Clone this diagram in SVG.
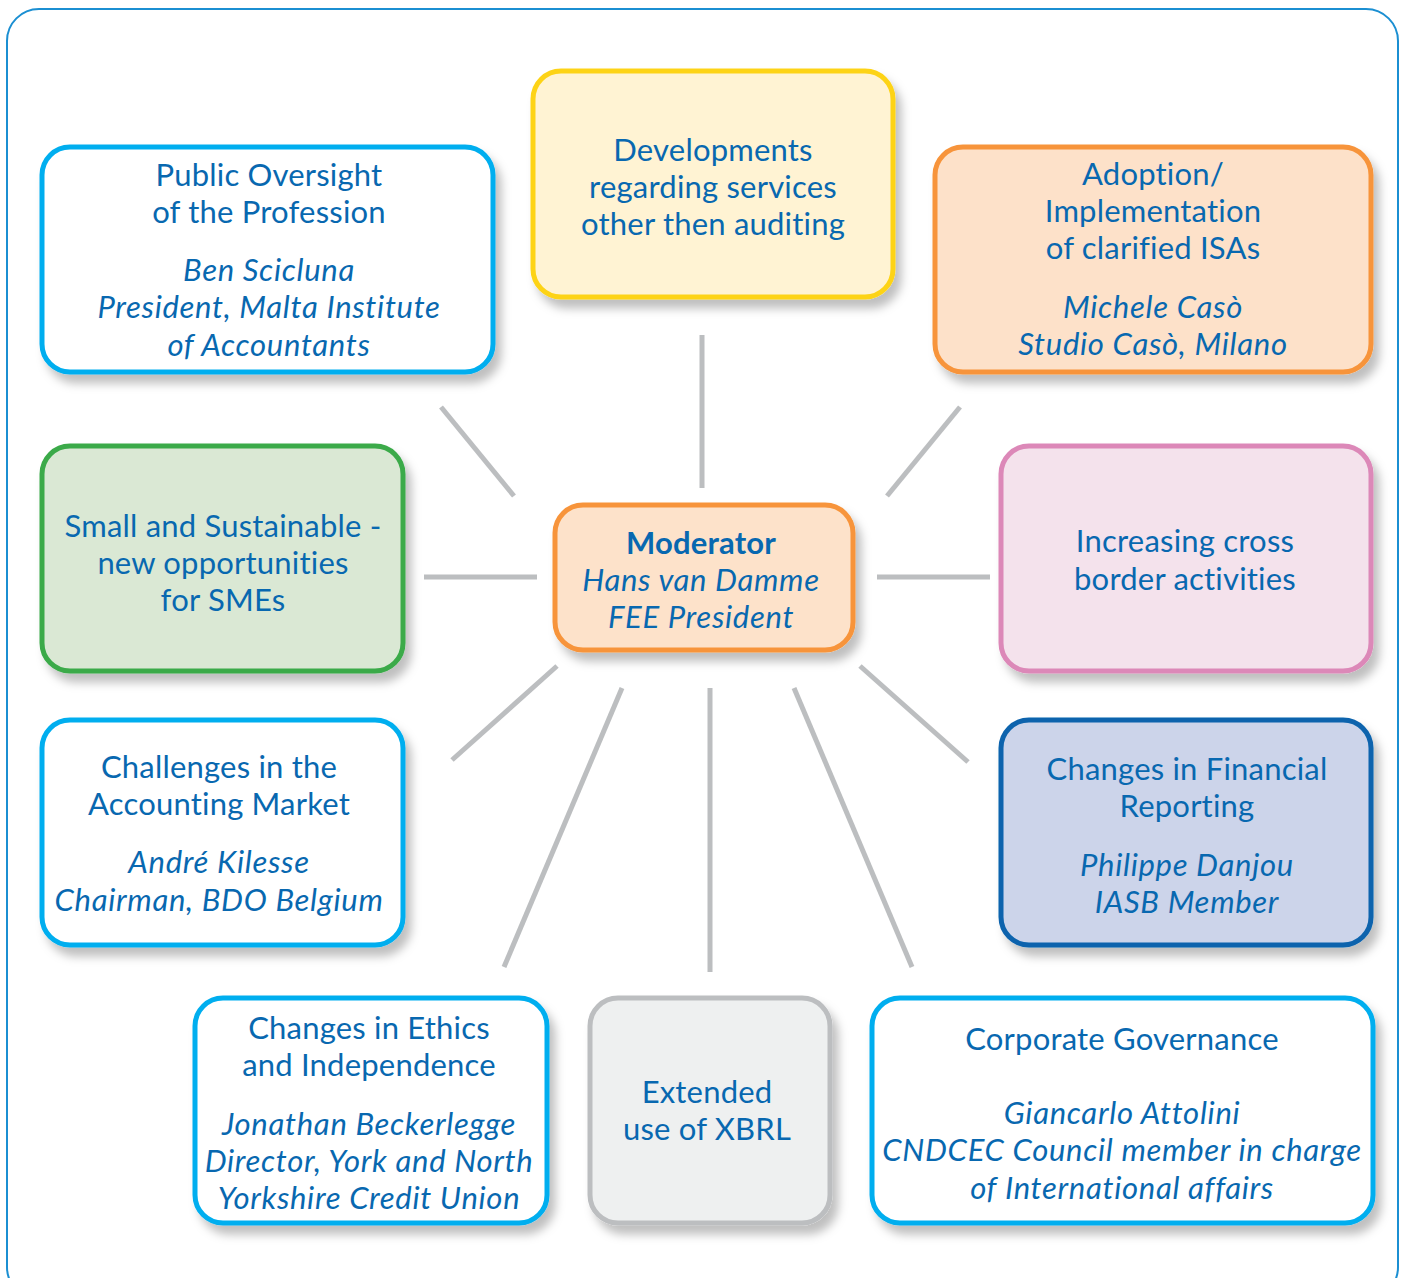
<svg xmlns="http://www.w3.org/2000/svg" width="1405" height="1278" viewBox="0 0 1405 1278">
<defs>
<filter id="sh" x="-10%" y="-10%" width="130%" height="140%">
<feDropShadow dx="6" dy="9" stdDeviation="5" flood-color="#000" flood-opacity="0.25"/>
</filter>
<style>
.t{font-family:Lato,"Open Sans","Noto Sans",sans-serif;font-size:31px;letter-spacing:0.2px;fill:#0868b0;text-anchor:middle}
.i{font-style:italic;letter-spacing:0.7px}
.b{font-weight:bold}
.box{stroke-width:5;filter:url(#sh)}
.cyan{stroke:#00aeef;fill:#fff}
.con line{stroke:#bcbec0;stroke-width:5}
</style>
</defs>
<rect width="1405" height="1278" fill="#fff"/>
<rect x="7" y="9" width="1391" height="1290" rx="32" fill="none" stroke="#1b8fd2" stroke-width="2"/>
<g class="con">
<line x1="441" y1="407" x2="514" y2="496"/>
<line x1="702" y1="335" x2="702" y2="488"/>
<line x1="960" y1="407" x2="887" y2="496"/>
<line x1="424" y1="577" x2="537" y2="577"/>
<line x1="877" y1="577" x2="990" y2="577"/>
<line x1="557" y1="666" x2="452" y2="760"/>
<line x1="860" y1="666" x2="968" y2="762"/>
<line x1="622" y1="688" x2="504" y2="967"/>
<line x1="710" y1="688" x2="710" y2="972"/>
<line x1="794" y1="688" x2="912" y2="967"/>
</g>
<g id="n-oversight">
<rect class="box cyan" x="42" y="147" width="451" height="225" rx="28"/>
<text class="t" x="269" y="186">Public Oversight</text>
<text class="t" x="269" y="223">of the Profession</text>
<text class="t i" x="269" y="281">Ben Scicluna</text>
<text class="t i" x="269" y="318">President, Malta Institute</text>
<text class="t i" x="269" y="356">of Accountants</text>
</g>
<g id="n-developments">
<rect class="box" x="533" y="71" width="360" height="226" rx="28" fill="#fff3d3" stroke="#fdd317"/>
<text class="t" x="713" y="161">Developments</text>
<text class="t" x="713" y="198">regarding services</text>
<text class="t" x="713" y="235">other then auditing</text>
</g>
<g id="n-adoption">
<rect class="box" x="935" y="147" width="436" height="225" rx="28" fill="#fde1c9" stroke="#f7943a"/>
<text class="t" x="1153" y="185">Adoption/</text>
<text class="t" x="1153" y="222">Implementation</text>
<text class="t" x="1153" y="259">of clarified ISAs</text>
<text class="t i" x="1153" y="318">Michele Casò</text>
<text class="t i" x="1153" y="355">Studio Casò, Milano</text>
</g>
<g id="n-sme">
<rect class="box" x="42" y="446" width="361" height="225" rx="28" fill="#dae8d4" stroke="#3aaa48"/>
<text class="t" x="223" y="537">Small and Sustainable -</text>
<text class="t" x="223" y="574">new opportunities</text>
<text class="t" x="223" y="611">for SMEs</text>
</g>
<g id="n-moderator">
<rect class="box" x="555" y="505" width="298" height="145" rx="28" fill="#fde2ca" stroke="#f7943a"/>
<text class="t b" x="701" y="554">Moderator</text>
<text class="t i" x="701" y="591">Hans van Damme</text>
<text class="t i" x="701" y="628">FEE President</text>
</g>
<g id="n-crossborder">
<rect class="box" x="1001" y="446" width="370" height="225" rx="28" fill="#f4e2ec" stroke="#dc88b8"/>
<text class="t" x="1185" y="552">Increasing cross</text>
<text class="t" x="1185" y="590">border activities</text>
</g>
<g id="n-challenges">
<rect class="box cyan" x="42" y="720" width="361" height="225" rx="28"/>
<text class="t" x="219" y="778">Challenges in the</text>
<text class="t" x="219" y="815">Accounting Market</text>
<text class="t i" x="219" y="873">André Kilesse</text>
<text class="t i" x="219" y="911">Chairman, BDO Belgium</text>
</g>
<g id="n-financial">
<rect class="box" x="1001" y="720" width="370" height="225" rx="28" fill="#ccd4ea" stroke="#0b63ad"/>
<text class="t" x="1187" y="780">Changes in Financial</text>
<text class="t" x="1187" y="817">Reporting</text>
<text class="t i" x="1187" y="876">Philippe Danjou</text>
<text class="t i" x="1187" y="913">IASB Member</text>
</g>
<g id="n-ethics">
<rect class="box cyan" x="195" y="998" width="352" height="225" rx="28"/>
<text class="t" x="369" y="1039">Changes in Ethics</text>
<text class="t" x="369" y="1076">and Independence</text>
<text class="t i" x="369" y="1135">Jonathan Beckerlegge</text>
<text class="t i" x="369" y="1172">Director, York and North</text>
<text class="t i" x="369" y="1209">Yorkshire Credit Union</text>
</g>
<g id="n-xbrl">
<rect class="box" x="590" y="998" width="240" height="225" rx="28" fill="#eef0f0" stroke="#bcbec0"/>
<text class="t" x="707" y="1103">Extended</text>
<text class="t" x="707" y="1140">use of XBRL</text>
</g>
<g id="n-governance">
<rect class="box cyan" x="872" y="998" width="501" height="225" rx="28"/>
<text class="t" x="1122" y="1050">Corporate Governance</text>
<text class="t i" x="1122" y="1124">Giancarlo Attolini</text>
<text class="t i" x="1122" y="1161">CNDCEC Council member in charge</text>
<text class="t i" x="1122" y="1199">of International affairs</text>
</g>
</svg>
